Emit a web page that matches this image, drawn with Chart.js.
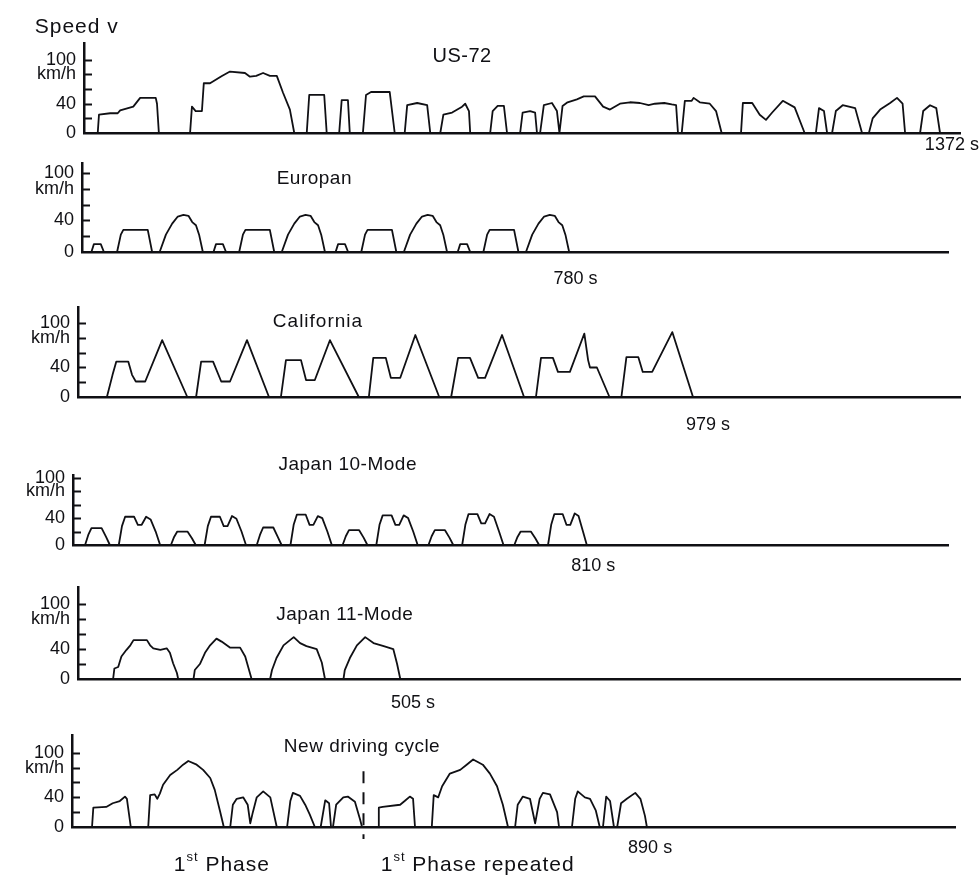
<!DOCTYPE html>
<html>
<head>
<meta charset="utf-8">
<script src="https://cdn.jsdelivr.net/npm/chart.js@4.4.1/dist/chart.umd.min.js"></script>
<style>
  html, body { margin: 0; padding: 0; background: #fff; }
  #page { position: relative; width: 979px; height: 878px; overflow: hidden; background: #fff; }
  #page canvas { position: absolute; left: 0; top: 0; pointer-events: none; }
</style>
</head>
<body>
<div id="page"></div>
<script>
// speed axis, same on every panel
const SPEED_TICKS = [0, 20, 40, 60, 80, 100];
const SPEED_LABELS = ['0', '', '40', '', 'km/h', '100'];

// US-72 (time s, speed km/h)
const US72_T = [0, 22, 24, 42, 54, 58, 79, 90, 115, 117, 120,
  170, 173, 179, 189, 192, 202, 221, 234, 258, 266, 276, 287, 298, 309, 319, 330, 337,
  357, 361, 385, 389, 409, 413, 423, 426, 447, 452, 460, 490, 498,
  514, 518, 534, 550, 555, 571, 576, 590, 606, 611, 617, 619,
  651, 655, 663, 673, 678, 699, 703, 715, 723, 726, 731, 737, 750, 758, 762,
  767, 775, 790, 801, 819, 832, 843, 859, 875, 891, 905, 915, 930, 942, 949, 952,
  958, 963, 974, 977, 987, 1003, 1013, 1022,
  1053, 1056, 1071, 1083, 1093, 1103, 1120, 1139, 1155,
  1173, 1178, 1186, 1191, 1199, 1205, 1216, 1236, 1247,
  1258, 1264, 1276, 1292, 1303, 1312, 1316, 1340, 1345, 1356, 1366, 1372];
const US72_V = [0, 0, 25, 27, 27, 31, 36, 48, 48, 40, 0,
  0, 36, 30, 30, 68, 68, 78, 84, 82, 77, 78, 82, 78, 78, 55, 32, 0,
  0, 52, 52, 0, 0, 45, 45, 0, 0, 52, 56, 56, 0,
  0, 38, 41, 38, 0, 0, 25, 28, 36, 40, 30, 0,
  0, 30, 37, 37, 0, 0, 28, 30, 28, 0, 0, 38, 41, 30, 0,
  37, 42, 46, 50, 50, 36, 32, 40, 42, 41, 38, 40, 41, 39, 38, 0,
  0, 44, 44, 48, 42, 40, 30, 0,
  0, 41, 41, 25, 18, 28, 44, 35, 0,
  0, 34, 30, 0, 0, 30, 38, 34, 0,
  0, 20, 32, 41, 48, 40, 0, 0, 30, 38, 34, 0];

// European (ECE) cycle
const EU_T = [0, 15, 19, 30, 35, 56, 62, 66, 105, 112, 124, 134, 144, 153, 162, 170, 176, 182, 187, 193,
  210, 214, 225, 230, 251, 257, 261, 300, 307, 319, 329, 339, 348, 357, 365, 371, 377, 382, 388,
  405, 409, 420, 425, 446, 452, 456, 495, 502, 514, 524, 534, 543, 552, 560, 566, 572, 577, 583,
  600, 604, 615, 620, 641, 647, 651, 690, 697, 709, 719, 729, 738, 747, 755, 761, 767, 772, 778, 780];
const EU_V = [0, 0, 10, 10, 0, 0, 22, 28, 28, 0, 0, 22, 36, 45, 47, 46, 38, 34, 22, 0,
  0, 10, 10, 0, 0, 22, 28, 28, 0, 0, 22, 36, 45, 47, 46, 38, 34, 22, 0,
  0, 10, 10, 0, 0, 22, 28, 28, 0, 0, 22, 36, 45, 47, 46, 38, 34, 22, 0,
  0, 10, 10, 0, 0, 22, 28, 28, 0, 0, 22, 36, 45, 47, 46, 38, 34, 22, 0, 0];

// California cycle
const CA_T = [0, 46, 55, 61, 80, 86, 92, 107, 134, 174,
  188, 196, 215, 228, 242, 269, 304,
  323, 331, 355, 363, 377, 401, 447,
  463, 470, 490, 498, 513, 537, 575,
  594, 605, 624, 637, 648, 675, 710,
  729, 737, 756, 764, 783, 806, 812, 815, 826, 846,
  865, 873, 892, 899, 914, 946, 979];
const CA_V = [0, 0, 30, 48, 48, 30, 21, 21, 77, 0,
  0, 48, 48, 21, 21, 77, 0,
  0, 50, 50, 23, 23, 77, 0,
  0, 53, 53, 26, 26, 84, 0,
  0, 53, 53, 26, 26, 84, 0,
  0, 53, 53, 34, 34, 86, 50, 40, 40, 0,
  0, 54, 54, 34, 34, 88, 0];

// Japan 10-mode
const J10_T = [0, 19, 24, 29, 45, 52, 58, 72, 77, 82, 96, 102, 108, 115, 122, 130, 137,
  154, 159, 164, 180, 187, 193, 207, 212, 217, 231, 237, 243, 250, 257, 265, 272,
  289, 294, 299, 315, 322, 328, 342, 347, 352, 366, 372, 378, 385, 392, 400, 407,
  424, 429, 434, 450, 457, 463, 477, 482, 487, 501, 507, 513, 520, 527, 535, 542,
  559, 564, 569, 585, 592, 598, 612, 617, 622, 636, 642, 648, 655, 662, 670, 677,
  694, 699, 704, 720, 727, 733, 747, 752, 757, 770, 776, 782, 789, 795, 802, 808, 810];
const J10_V = [0, 0, 15, 25, 25, 12, 0, 0, 28, 42, 42, 30, 30, 42, 38, 20, 0,
  0, 12, 20, 20, 10, 0, 0, 28, 42, 42, 28, 28, 43, 39, 20, 0,
  0, 15, 26, 26, 12, 0, 0, 30, 45, 45, 30, 30, 43, 40, 20, 0,
  0, 13, 22, 22, 11, 0, 0, 30, 44, 44, 30, 30, 44, 40, 20, 0,
  0, 13, 22, 22, 11, 0, 0, 30, 46, 46, 32, 32, 46, 42, 20, 0,
  0, 12, 20, 20, 10, 0, 0, 30, 46, 46, 30, 30, 47, 43, 20, 0, 0];

// Japan 11-mode
const J11_T = [0, 55, 57, 63, 68, 76, 82, 87, 108, 113, 118, 129, 139, 144, 149, 155, 157,
  181, 183, 191, 199, 207, 217, 225, 238, 254, 262, 267, 272,
  301, 304, 311, 322, 338, 348, 358, 374, 382, 387,
  416, 418, 426, 437, 450, 463, 479, 494, 500, 505];
const J11_V = [0, 0, 14, 16, 30, 39, 45, 52, 52, 45, 41, 39, 41, 35, 21, 8, 0,
  0, 12, 20, 35, 45, 54, 50, 42, 42, 30, 15, 0,
  0, 12, 28, 45, 56, 48, 44, 40, 22, 0,
  0, 12, 28, 45, 56, 48, 44, 40, 20, 0];

// new driving cycle (1st phase, then repeated)
const NEW_T = [0, 31, 33, 53, 63, 74, 82, 85, 91,
  118, 121, 128, 132, 136, 141, 152, 163, 172, 180, 193, 203, 214, 221, 229, 235,
  245, 249, 255, 265, 272, 276, 280, 286, 296, 307, 317,
  333, 338, 342, 353, 361, 368, 376, 385, 392, 398, 401,
  404, 409, 420, 427, 438, 446, 449,
  474, 475, 481, 508, 515, 523, 528, 531,
  557, 560, 567, 573, 585, 601, 611, 621, 636, 647, 658, 667, 675,
  686, 690, 698, 709, 717, 724, 729, 740, 751, 754,
  774, 779, 783, 794, 802, 811, 817, 822, 827, 833, 839,
  844, 850, 859, 872, 880, 887, 890];
const NEW_V = [0, 0, 26, 27, 32, 35, 41, 38, 0,
  0, 43, 44, 38, 45, 57, 70, 77, 84, 89, 84, 77, 66, 50, 22, 0,
  0, 30, 38, 40, 30, 5, 20, 40, 48, 40, 0,
  0, 35, 46, 42, 30, 17, 0, 0, 36, 32, 0,
  0, 30, 40, 41, 34, 10, 0,
  0, 26, 27, 30, 35, 41, 38, 0,
  0, 43, 40, 55, 72, 77, 84, 91, 84, 72, 55, 30, 0,
  0, 30, 41, 38, 5, 38, 46, 44, 20, 0,
  0, 38, 48, 40, 38, 22, 0, 0, 41, 35, 0,
  0, 32, 38, 46, 38, 15, 0];
const PHASE_SPLIT = 450;

const INK = '#101014';
const FONT = '"Liberation Sans", Arial, sans-serif';

const panels = [
  { t: US72_T, v: US72_V, frame: { left: 84, right: 960, top: 43, bottom: 133 }, xMax: 1404, yMax: 123,
    notes: [
      { text: 'Speed v', t: -79, dy: -108, size: 21, spacing: 1, align: 'left' },
      { text: 'US-72', t: 606, dy: -78, size: 20, spacing: 0.5 },
      { text: '1372 s', t: 1391, dy: 11, size: 18 }
    ] },
  { t: EU_T, v: EU_V, frame: { left: 82, right: 948, top: 163, bottom: 252 }, xMax: 1383, yMax: 113,
    notes: [
      { text: 'Europan', t: 371, dy: -75, size: 19, spacing: 0.5 },
      { text: '780 s', t: 788, dy: 26, size: 18 }
    ] },
  { t: CA_T, v: CA_V, frame: { left: 78, right: 960, top: 307, bottom: 397 }, xMax: 1404, yMax: 122,
    notes: [
      { text: 'California', t: 382, dy: -77, size: 19, spacing: 1 },
      { text: '979 s', t: 1003, dy: 27, size: 18 }
    ] },
  { t: J10_T, v: J10_V, frame: { left: 73, right: 948, top: 475, bottom: 545 }, xMax: 1376, yMax: 104,
    notes: [
      { text: 'Japan 10-Mode', t: 432, dy: -82, size: 19, spacing: 0.5 },
      { text: '810 s', t: 818, dy: 20, size: 18 }
    ] },
  { t: J11_T, v: J11_V, frame: { left: 78, right: 960, top: 587, bottom: 679 }, xMax: 1382, yMax: 123,
    notes: [
      { text: 'Japan 11-Mode', t: 418, dy: -66, size: 19, spacing: 0.5 },
      { text: '505 s', t: 525, dy: 23, size: 18 }
    ] },
  { t: NEW_T, v: NEW_V, frame: { left: 72, right: 955, top: 735, bottom: 827 }, xMax: 1367, yMax: 124,
    divider: PHASE_SPLIT,
    notes: [
      { text: 'New driving cycle', t: 449, dy: -82, size: 19, spacing: 0.5 },
      { parts: [['1', 0], ['st', 1], [' Phase', 0]], t: 232, dy: 36, size: 21, spacing: 1 },
      { parts: [['1', 0], ['st', 1], [' Phase repeated', 0]], t: 628, dy: 36, size: 21, spacing: 1 },
      { text: '890 s', t: 895, dy: 20, size: 18 }
    ] }
];

// inner tick marks, texts and the phase divider
const decor = {
  id: 'decor',
  afterDraw(chart, args, opts) {
    const ctx = chart.ctx;
    const xs = chart.scales.x, ys = chart.scales.y;
    const area = chart.chartArea;
    ctx.save();
    ctx.strokeStyle = INK;
    ctx.lineWidth = 2;
    SPEED_TICKS.forEach(v => {
      if (v === 0) return;
      const y = Math.round(ys.getPixelForValue(v)) + 0.5;
      ctx.beginPath();
      ctx.moveTo(area.left, y);
      ctx.lineTo(area.left + 8, y);
      ctx.stroke();
    });
    if (opts.divider != null) {
      const x = Math.round(xs.getPixelForValue(opts.divider)) + 0.5;
      ctx.setLineDash([12, 9]);
      ctx.beginPath();
      ctx.moveTo(x, ys.getPixelForValue(75));
      ctx.lineTo(x, area.bottom + 12);
      ctx.stroke();
      ctx.setLineDash([]);
    }
    ctx.fillStyle = INK;
    ctx.textBaseline = 'alphabetic';
    (opts.notes || []).forEach(n => {
      const parts = n.parts || [[n.text, 0]];
      const cx = xs.getPixelForValue(n.t);
      const cy = area.bottom + n.dy + n.size * 0.36;
      ctx.letterSpacing = (n.spacing || 0) + 'px';
      const widths = parts.map(([s, sup]) => {
        ctx.font = (sup ? Math.round(n.size * 0.6) : n.size) + 'px ' + FONT;
        return ctx.measureText(s).width;
      });
      const total = widths.reduce((a, b) => a + b, 0);
      let x = n.align === 'left' ? cx : cx - total / 2;
      parts.forEach(([s, sup], i) => {
        ctx.font = (sup ? Math.round(n.size * 0.6) : n.size) + 'px ' + FONT;
        ctx.fillText(s, x, sup ? cy - n.size * 0.45 : cy);
        x += widths[i];
      });
    });
    ctx.letterSpacing = '0px';
    ctx.restore();
  }
};

const page = document.getElementById('page');

panels.forEach(p => {
  const canvas = document.createElement('canvas');
  canvas.width = 979;
  canvas.height = 878;
  page.appendChild(canvas);
  new Chart(canvas, {
    type: 'line',
    data: {
      datasets: [{
        data: p.t.map((t, i) => ({ x: t, y: p.v[i] })),
        borderColor: INK,
        borderWidth: 1.8,
        borderJoinStyle: 'round',
        borderCapStyle: 'round',
        pointRadius: 0,
        tension: 0,
        fill: false,
        clip: false
      }]
    },
    options: {
      responsive: false,
      animation: false,
      events: [],
      layout: {
        padding: { top: p.frame.top, right: 979 - p.frame.right, bottom: 878 - p.frame.bottom, left: 0 }
      },
      plugins: {
        legend: { display: false },
        tooltip: { enabled: false },
        decor: { notes: p.notes, divider: p.divider }
      },
      scales: {
        x: {
          type: 'linear',
          min: 0,
          max: p.xMax,
          grid: { display: false },
          ticks: { display: false },
          border: { display: true, color: INK, width: 2.5 },
          afterFit: s => { s.height = 0; }
        },
        y: {
          min: 0,
          max: p.yMax,
          afterBuildTicks: s => { s.ticks = SPEED_TICKS.map(v => ({ value: v })); },
          grid: { display: false, drawTicks: false },
          border: { display: true, color: INK, width: 2.5 },
          ticks: {
            autoSkip: false,
            padding: 8,
            color: INK,
            font: { family: FONT, size: 18 },
            callback: (value, index) => SPEED_LABELS[index]
          },
          afterFit: s => { s.width = p.frame.left; }
        }
      }
    },
    plugins: [decor]
  });
});
</script>
</body>
</html>
